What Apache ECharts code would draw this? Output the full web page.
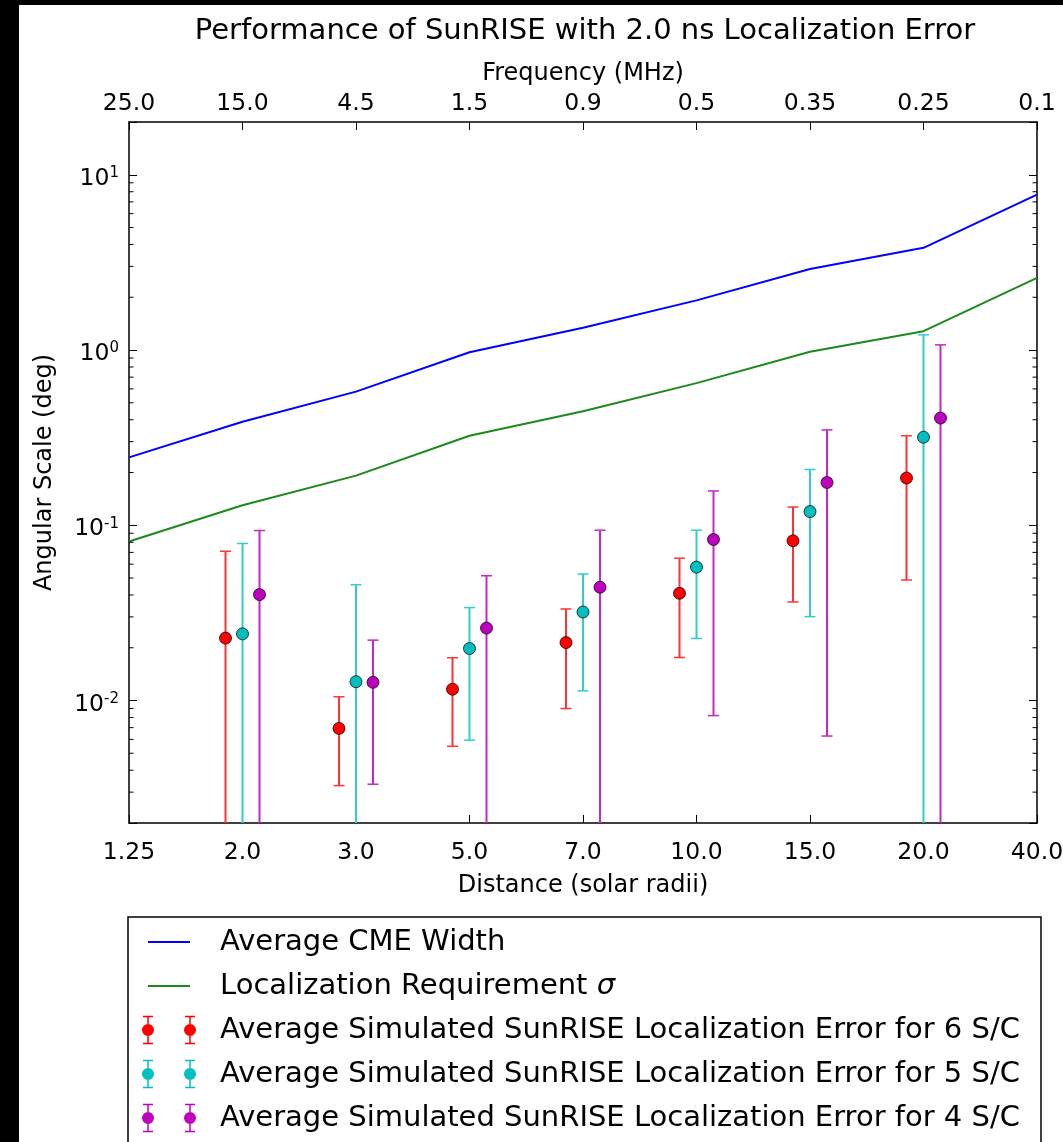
<!DOCTYPE html>
<html>
<head>
<meta charset="utf-8">
<script src="https://cdn.jsdelivr.net/npm/echarts@6/dist/echarts.min.js"></script>
<style>
  html, body { margin: 0; padding: 0; background: #fff; }
  #chart { width: 1063px; height: 1142px; }
</style>
</head>
<body>
<div id="chart"></div>
<script>
// tick labels (bottom = distance, top = frequency)
const distanceLabels = ['1.25', '2.0', '3.0', '5.0', '7.0', '10.0', '15.0', '20.0', '40.0'];
const frequencyLabels = ['25.0', '15.0', '4.5', '1.5', '0.9', '0.5', '0.35', '0.25', '0.1'];

// curves, one value per distance tick
const cmeWidth = [0.244, 0.39, 0.579, 0.971, 1.34, 1.92, 2.90, 3.83, 7.70];
const locRequirement = [0.0807, 0.130, 0.192, 0.324, 0.447, 0.647, 0.978, 1.28, 2.58];

// simulated errors sit around distance ticks 1..7
const groupIndex = [1, 2, 3, 4, 5, 6, 7];
// null lower bound = error bar runs below the axis
const sc6Mean = [0.0227, 0.00693, 0.0116, 0.0214, 0.0409, 0.0815, 0.186];
const sc6Low  = [null, 0.00327, 0.00548, 0.0090, 0.0176, 0.0365, 0.0487];
const sc6High = [0.0711, 0.0105, 0.01754, 0.0333, 0.0649, 0.127, 0.324];

const sc5Mean = [0.0240, 0.0128, 0.0198, 0.0320, 0.0577, 0.1197, 0.318];
const sc5Low  = [null, null, 0.00594, 0.01135, 0.0226, 0.0301, null];
const sc5High = [0.0787, 0.0458, 0.0339, 0.0527, 0.0937, 0.208, 1.22];

const sc4Mean = [0.0402, 0.0127, 0.0259, 0.0443, 0.0829, 0.1754, 0.409];
const sc4Low  = [null, 0.00333, null, null, 0.0082, 0.00627, null];
const sc4High = [0.0933, 0.0221, 0.0515, 0.0937, 0.157, 0.350, 1.07];

// minor log ticks
const minorTickValues = [
  0.003, 0.004, 0.005, 0.006, 0.007, 0.008, 0.009,
  0.02, 0.03, 0.04, 0.05, 0.06, 0.07, 0.08, 0.09,
  0.2, 0.3, 0.4, 0.5, 0.6, 0.7, 0.8, 0.9,
  2, 3, 4, 5, 6, 7, 8, 9
];

const X_MIN = 0, X_MAX = 8;
const Y_MIN = 0.002, Y_MAX = 20;
const FONT = 'DejaVu Sans';

const NAME_CME = 'Average CME Width';
const NAME_REQ = 'Localization Requirement σ';
const NAME_6 = 'Average Simulated SunRISE Localization Error for 6 S/C';
const NAME_5 = 'Average Simulated SunRISE Localization Error for 5 S/C';
const NAME_4 = 'Average Simulated SunRISE Localization Error for 4 S/C';

// legend icon: two markers with error bars
function errIcon() {
  let p = '';
  [6, 48].forEach(cx => {
    p += 'M' + (cx - 5) + ',0.75 H' + (cx + 5) + ' V2.25 H' + (cx + 0.75) + ' V9 H' + (cx - 0.75) + ' V2.25 H' + (cx - 5) + ' Z ';
    p += 'M' + (cx - 0.75) + ',21 H' + (cx + 0.75) + ' V27.75 H' + (cx + 5) + ' V29.25 H' + (cx - 5) + ' V27.75 H' + (cx - 0.75) + ' Z ';
    p += 'M' + (cx - 6) + ',15 A6,6 0 1 1 ' + (cx + 6) + ',15 A6,6 0 1 1 ' + (cx - 6) + ',15 Z ';
  });
  return 'path://' + p;
}
const lineIcon = 'path://M0,0 L0,0 M54,30 L54,30 M6,14 H48 V16 H6 Z';

function errorBarSeries(name, color, barColor, shiftPx, mean, low, high) {
  return {
    name: name,
    type: 'custom',
    xAxisIndex: 0,
    yAxisIndex: 0,
    clip: true,
    z: 3,
    itemStyle: { color: color },
    encode: { x: 0, y: 1 },
    data: groupIndex.map((g, i) => [g, mean[i], low[i] == null ? '-' : low[i], high[i]]),
    renderItem: function (params, api) {
      const c = api.coord([api.value(0), api.value(1)]);
      const x = c[0] + shiftPx;
      const lo = api.value(2);
      const hasLow = !(lo == null || isNaN(lo));
      const yLo = api.coord([api.value(0), hasLow ? lo : Y_MIN])[1];
      const yHi = api.coord([api.value(0), api.value(3)])[1];
      const kids = [
        { type: 'line', shape: { x1: x, y1: yLo, x2: x, y2: yHi }, style: { stroke: barColor, lineWidth: 2 } },
        { type: 'line', shape: { x1: x - 5.5, y1: yHi, x2: x + 5.5, y2: yHi }, style: { stroke: barColor, lineWidth: 1.5 } }
      ];
      if (hasLow) {
        kids.push({ type: 'line', shape: { x1: x - 5.5, y1: yLo, x2: x + 5.5, y2: yLo }, style: { stroke: barColor, lineWidth: 1.5 } });
      }
      kids.push({ type: 'circle', shape: { cx: x, cy: c[1], r: 6 }, style: { fill: color, stroke: 'rgba(0,0,0,0.75)', lineWidth: 1 } });
      return { type: 'group', children: kids };
    }
  };
}

const chart = echarts.init(document.getElementById('chart'));

const axisText = { fontFamily: FONT, fontSize: 23.5, color: '#000' };

const option = {
  animation: false,
  backgroundColor: '#fff',
  title: {
    text: 'Performance of SunRISE with 2.0 ns Localization Error',
    left: 580,
    textAlign: 'center',
    top: 12,
    textStyle: { fontFamily: FONT, fontSize: 29, fontWeight: 'normal', color: '#000' }
  },
  grid: { left: 129, top: 122, right: 26, bottom: 319, containLabel: false, outerBoundsMode: 'none' },
  legend: {
    orient: 'vertical',
    left: 142,
    top: 927,
    padding: 0,
    itemWidth: 54,
    itemHeight: 30,
    itemGap: 14,
    selectedMode: false,
    itemStyle: { borderWidth: 0 },
    textStyle: {
      fontFamily: FONT, fontSize: 29, color: '#000', lineHeight: 30, padding: [0, 0, 0, 19],
      rich: { i: { fontFamily: FONT, fontSize: 29, fontStyle: 'italic', color: '#000', lineHeight: 30 } }
    },
    formatter: function (name) {
      return name === NAME_REQ ? 'Localization Requirement {i|σ}' : name;
    },
    data: [
      { name: NAME_CME, icon: lineIcon },
      { name: NAME_REQ, icon: lineIcon },
      { name: NAME_6, icon: errIcon() },
      { name: NAME_5, icon: errIcon() },
      { name: NAME_4, icon: errIcon() }
    ]
  },
  graphic: [
    { type: 'rect', shape: { x: 128, y: 917, width: 913, height: 300 }, style: { fill: 'transparent', stroke: '#000', lineWidth: 1.5 }, z: 1 },
    { type: 'rect', shape: { x: 0, y: 0, width: 19, height: 1142 }, style: { fill: '#000' }, z: 100 },
    { type: 'rect', shape: { x: 0, y: 0, width: 1063, height: 5 }, style: { fill: '#000' }, z: 100 }
  ],
  xAxis: [
    {
      type: 'value', position: 'bottom', min: X_MIN, max: X_MAX, interval: 1,
      axisLine: { show: true, onZero: false, lineStyle: { color: '#000', width: 1.5 } },
      axisTick: { show: true, inside: true, length: 8, lineStyle: { color: '#000', width: 1 } },
      splitLine: { show: false },
      axisLabel: Object.assign({ margin: 18, showMinLabel: true, showMaxLabel: true, hideOverlap: false,
        formatter: v => distanceLabels[Math.round(v)] }, axisText),
      name: 'Distance (solar radii)', nameLocation: 'middle', nameGap: 51,
      nameTextStyle: { fontFamily: FONT, fontSize: 24, color: '#000' }
    },
    {
      type: 'value', position: 'top', min: X_MIN, max: X_MAX, interval: 1,
      axisLine: { show: true, onZero: false, lineStyle: { color: '#000', width: 1.5 } },
      axisTick: { show: true, inside: true, length: 8, lineStyle: { color: '#000', width: 1 } },
      splitLine: { show: false },
      axisLabel: Object.assign({ margin: 6, showMinLabel: true, showMaxLabel: true, hideOverlap: false,
        formatter: v => frequencyLabels[Math.round(v)] }, axisText),
      name: 'Frequency (MHz)', nameLocation: 'middle', nameGap: 36,
      nameTextStyle: { fontFamily: FONT, fontSize: 24, color: '#000' }
    }
  ],
  yAxis: [
    {
      type: 'log', logBase: 10, min: Y_MIN, max: Y_MAX, position: 'left',
      axisLine: { show: true, onZero: false, lineStyle: { color: '#000', width: 1.5 } },
      axisTick: { show: true, inside: true, length: 8, lineStyle: { color: '#000', width: 1 } },
      splitLine: { show: false },
      axisLabel: {
        margin: 10,
        padding: [8, 0, 0, 0],
        formatter: function (v) {
          const e = Math.log10(v);
          const r = Math.round(e);
          if (Math.abs(e - r) > 1e-6) return '';
          return '{b|10}{s|' + (r < 0 ? '-' : '') + Math.abs(r) + '}';
        },
        rich: {
          b: { fontFamily: FONT, fontSize: 23.5, color: '#000', lineHeight: 26 },
          s: { fontFamily: FONT, fontSize: 15, color: '#000', lineHeight: 15, verticalAlign: 'top' }
        }
      },
      name: 'Angular Scale (deg)', nameLocation: 'middle', nameGap: 72,
      nameTextStyle: { fontFamily: FONT, fontSize: 24, color: '#000' }
    },
    {
      type: 'log', logBase: 10, min: Y_MIN, max: Y_MAX, position: 'right',
      axisLine: { show: true, onZero: false, lineStyle: { color: '#000', width: 1.5 } },
      axisTick: { show: true, inside: true, length: 8, lineStyle: { color: '#000', width: 1 } },
      splitLine: { show: false },
      axisLabel: { show: false }
    }
  ],
  series: [
    {
      name: NAME_CME, type: 'line', xAxisIndex: 0, yAxisIndex: 0,
      data: cmeWidth.map((v, i) => [i, v]),
      showSymbol: false, symbol: 'none', z: 2,
      lineStyle: { color: '#0000ff', width: 2 }, itemStyle: { color: '#0000ff' }
    },
    {
      name: NAME_REQ, type: 'line', xAxisIndex: 0, yAxisIndex: 0,
      data: locRequirement.map((v, i) => [i, v]),
      showSymbol: false, symbol: 'none', z: 2,
      lineStyle: { color: '#1a8a1a', width: 2 }, itemStyle: { color: '#1a8a1a' }
    },
    errorBarSeries(NAME_6, '#ff0000', '#ff3333', -17, sc6Mean, sc6Low, sc6High),
    errorBarSeries(NAME_5, '#00bfbf', '#33cccc', 0, sc5Mean, sc5Low, sc5High),
    errorBarSeries(NAME_4, '#bf00bf', '#c428c4', 17, sc4Mean, sc4Low, sc4High),
    {
      // minor log ticks on both spines
      type: 'custom', xAxisIndex: 0, yAxisIndex: 0, silent: true, clip: false, z: 4,
      data: minorTickValues.map(v => [X_MIN, v]),
      renderItem: function (params, api) {
        const l = api.coord([X_MIN, api.value(1)]);
        const r = api.coord([X_MAX, api.value(1)]);
        return {
          type: 'group',
          children: [
            { type: 'line', shape: { x1: l[0], y1: l[1], x2: l[0] + 4.5, y2: l[1] }, style: { stroke: '#000', lineWidth: 1 } },
            { type: 'line', shape: { x1: r[0], y1: r[1], x2: r[0] - 4.5, y2: r[1] }, style: { stroke: '#000', lineWidth: 1 } }
          ]
        };
      }
    }
  ]
};

chart.setOption(option);
</script>
</body>
</html>
